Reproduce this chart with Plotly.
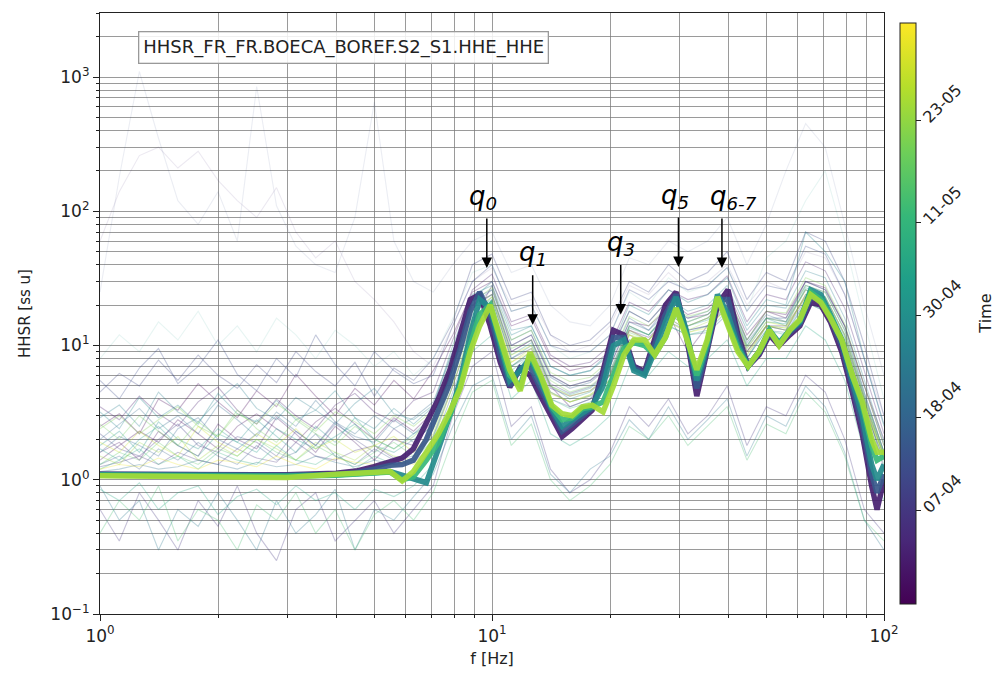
import numpy as np
import pandas as pd
import plotly.graph_objects as go
from plotly.colors import sample_colorscale

# ---------------------------------------------------------------------------
# Frequency grids [Hz]
# ---------------------------------------------------------------------------
FREQ_BG = [1.0, 1.12, 1.26, 1.41, 1.58, 1.78, 2.0, 2.24, 2.51, 2.82,
           3.16, 3.55, 3.98, 4.47, 5.01, 5.62, 6.31, 7.08, 7.94, 8.91,
           10.0, 11.2, 12.6, 14.1, 15.8, 17.8, 20.0, 22.4, 25.1, 28.2,
           31.6, 35.5, 39.8, 44.7, 50.1, 56.2, 63.1, 70.8, 79.4, 89.1, 100.0]

FREQ_CORE = [1.0, 1.5, 2.0, 3.0, 4.0, 4.5, 5.0, 5.5, 5.9, 6.3,
             6.8, 7.3, 7.8, 8.3, 8.8, 9.3, 9.9, 10.5, 11.1, 11.8,
             12.5, 13.3, 14.2, 15.1, 16.0, 17.0, 18.0, 19.2, 20.4, 21.7,
             23.0, 24.5, 26.0, 27.7, 29.5, 31.3, 33.3, 35.4, 37.6, 40.0,
             42.4, 45.0, 48.0, 51.0, 54.0, 57.5, 61.0, 65.0, 69.0, 73.0,
             78.0, 83.0, 88.0, 93.0, 96.0, 100.0]

# ---------------------------------------------------------------------------
# Individual (noisy) HHSR curves, one per acquisition window
# ---------------------------------------------------------------------------
BG_0328 = [2.5, 3.1, 2.2, 4.0, 3.3, 5.2, 3.8, 2.9, 4.6, 3.5, 6.1, 4.2, 3.0, 4.8, 3.6, 5.5, 4.0, 6.5, 12, 25,
           30, 14, 16, 8, 6.5, 7, 9, 18, 15, 22, 17, 19, 26, 12, 18, 16, 30, 26, 14, 5, 2]
BG_0329 = [1.4, 1.8, 2.3, 1.9, 2.8, 2.2, 1.7, 2.5, 3.1, 2.4, 1.9, 2.7, 3.4, 2.6, 2.0, 2.9, 2.3, 3.2,
           6, 15, 28, 10, 12, 6, 5, 5.5, 7, 15, 14, 19, 16, 17, 24, 11, 18, 17, 30, 27, 14, 5, 1.8]
BG_0331 = [1.6, 1.9, 1.4, 2.3, 1.8, 1.5, 2.6, 2.0, 1.7, 2.9, 2.2, 1.6, 2.5, 1.9, 1.4, 2.0, 1.8, 2.8, 8, 20,
           24, 9, 11, 5, 3.5, 4, 6, 13, 11, 17, 9, 14, 22, 9, 14, 13, 24, 20, 11, 4, 1.2]
BG_0401 = [3.5, 2.8, 4.2, 3.1, 2.5, 3.8, 4.9, 3.3, 2.6, 4.0, 3.0, 2.4, 3.6, 4.4, 3.2, 2.7, 3.9, 4.5,
           11, 26, 34, 15, 17, 8.5, 7, 7.5, 10, 21, 18, 26, 22, 24, 33, 15, 24, 22, 42, 36, 19, 6.5, 2.2]
BG_0404 = [60, 140, 260, 300, 210, 280, 170, 120, 90, 150, 70, 45, 60, 30, 22, 15, 9, 7, 14, 30,
           38, 20, 22, 12, 9, 10, 14, 28, 24, 35, 26, 30, 40, 20, 30, 26, 50, 45, 24, 8, 3]
BG_0406 = [1.25, 1.35, 1.5, 1.3, 1.6, 1.4, 1.3, 1.7, 1.45, 1.35, 1.9, 1.5, 1.4, 1.65, 1.8, 1.45, 1.6, 2.1,
           5, 13, 22, 8, 9.5, 4.8, 4.2, 4.6, 6, 13, 11.5, 16, 13, 14, 20, 9, 14, 14, 23, 20, 10.5, 3.8, 1.5]
BG_0407 = [0.6, 0.35, 0.8, 0.5, 0.3, 0.7, 0.45, 0.9, 0.4, 0.25, 0.6, 0.8, 0.35, 0.5, 0.7, 0.4, 0.6, 0.9, 3, 7,
           9, 2.5, 3.5, 1.2, 0.8, 1.0, 1.6, 3.5, 2.5, 4, 2.2, 3, 5, 1.8, 3.5, 3, 6, 4.5, 2, 0.6, 0.4]
BG_0409 = [2.2, 1.7, 1.5, 2.0, 2.6, 1.8, 1.6, 2.1, 1.9, 1.5, 2.3, 1.8, 2.7, 2.0, 1.6, 2.4, 1.9, 2.6,
           7.5, 19, 24, 9, 11, 5.2, 4.4, 4.9, 6.4, 14, 12, 17, 14, 16, 22, 9.8, 16, 15, 26, 23, 12, 4.2, 1.6]
BG_0410 = [4.5, 6.2, 5.0, 7.8, 5.5, 8.5, 6.0, 4.8, 7.2, 5.3, 9.0, 6.4, 5.0, 7.5, 4.2, 6.8, 5.5, 8, 15, 40,
           48, 22, 25, 12, 10, 11, 15, 30, 25, 40, 30, 35, 50, 22, 35, 30, 70, 60, 30, 10, 3]
BG_0412 = [5.5, 4.0, 6.8, 9.5, 5.2, 7.0, 11, 6.1, 4.6, 8.0, 5.8, 12, 7.2, 5.0, 9.0, 6.5, 5.2, 6.0,
           14, 30, 40, 18, 20, 10, 9, 9, 12, 26, 22, 30, 26, 28, 38, 18, 28, 26, 55, 48, 24, 8, 2.6]
BG_0413 = [25, 180, 1100, 350, 120, 80, 140, 60, 850, 110, 55, 40, 35, 90, 650, 60, 30, 25, 40, 60,
           70, 35, 40, 20, 15, 14, 20, 45, 40, 60, 50, 60, 90, 40, 80, 200, 450, 300, 80, 20, 6]
BG_0416 = [1.3, 1.5, 1.2, 1.7, 1.4, 1.9, 1.5, 1.3, 1.8, 1.4, 1.6, 2.2, 1.5, 1.3, 1.7, 1.4, 1.5, 2.4, 6, 16,
           20, 7, 9, 4.5, 3.8, 4.2, 5.5, 12, 10, 15, 13, 14, 19, 8, 14, 13, 22, 19, 10, 3.5, 1.4]
BG_0418 = [1.6, 2.1, 1.8, 1.5, 2.4, 2.9, 2.0, 1.7, 2.2, 3.0, 2.3, 1.8, 2.6, 2.1, 1.9, 2.8, 2.2, 2.7,
           8, 20, 26, 10, 12, 5.8, 4.8, 5.3, 7, 15, 13, 18, 15, 17, 23, 10.5, 16, 16, 28, 25, 13, 4.4, 1.6]
BG_0419 = [2.0, 2.6, 3.4, 2.4, 3.0, 2.2, 3.6, 2.8, 2.1, 3.2, 2.5, 3.9, 2.7, 2.2, 3.0, 2.4, 2.9, 3.8, 9, 22,
           26, 11, 13, 6, 5, 5.5, 7.5, 16, 13, 20, 16, 18, 24, 11, 17, 15, 30, 26, 14, 4.5, 1.6]
BG_0421 = [1.15, 1.2, 1.3, 1.2, 1.25, 1.4, 1.3, 1.2, 1.35, 1.25, 1.3, 1.5, 1.35, 1.25, 1.4, 1.3, 1.35, 1.8,
           4.5, 12, 19, 7, 8.5, 4, 3.5, 4, 5, 11, 10, 14, 12, 12.5, 17, 8, 13, 12.5, 21, 18, 9.5, 3.4, 1.4]
BG_0423 = [0.9, 0.5, 0.7, 0.3, 0.6, 0.45, 0.8, 0.5, 0.3, 0.7, 0.4, 0.55, 0.85, 0.3, 0.6, 0.5, 0.75, 1.1, 2.5, 5,
           6, 2, 3, 1.1, 0.8, 1.2, 1.5, 2.8, 2, 3.5, 2, 2.8, 4, 1.5, 3, 2.5, 5, 3.5, 1.6, 0.5, 0.3]
BG_0425 = [2.9, 3.6, 2.5, 4.5, 3.2, 2.7, 3.9, 5.2, 3.4, 2.8, 4.1, 3.3, 2.6, 3.7, 4.8, 3.1, 2.8, 3.6,
           9, 22, 30, 13, 14, 7, 6, 6.5, 8.5, 18, 15, 22, 18, 20, 28, 13, 20, 19, 36, 32, 16, 5.5, 1.9]
BG_0427 = [3.2, 2.4, 4.1, 2.9, 3.6, 2.6, 4.4, 3.1, 2.7, 3.9, 2.8, 3.3, 4.6, 2.9, 2.4, 3.4, 2.6, 3.5, 10, 24,
           28, 12, 14, 7, 6, 6.5, 9, 20, 17, 26, 21, 24, 32, 14, 22, 20, 70, 50, 30, 8, 2.5]
BG_0501 = [1.8, 2.3, 1.6, 2.7, 2.0, 1.7, 2.4, 1.9, 2.8, 2.1, 1.6, 2.5, 1.9, 2.9, 2.0, 1.7, 2.2, 3.0, 7, 18,
           22, 8, 10, 5, 4, 4.5, 6, 14, 12, 18, 14, 16, 22, 10, 16, 14, 27, 23, 12, 4, 1.5]
BG_0503 = [1.7, 1.4, 2.0, 2.5, 1.8, 1.5, 2.2, 1.9, 1.6, 2.4, 2.0, 1.7, 2.1, 2.6, 1.8, 1.6, 2.0, 2.5,
           7, 17, 23, 8.5, 10.5, 5, 4.3, 4.8, 6.2, 13.5, 12, 17, 14, 15.5, 21, 9.5, 15, 14.5, 26, 22, 11.5, 4, 1.5]
BG_0505 = [8, 12, 9, 15, 11, 18, 10, 14, 9, 16, 12, 8, 13, 10, 7, 9, 6, 8, 16, 35,
           40, 18, 20, 10, 8, 9, 12, 25, 20, 32, 25, 28, 38, 18, 45, 60, 120, 200, 60, 15, 4]
BG_0507 = [0.85, 0.7, 0.95, 0.6, 0.8, 0.9, 0.55, 0.75, 0.85, 0.65, 0.9, 0.7, 0.8, 0.6, 0.85, 0.75, 0.9, 1.3,
           3.5, 9, 12, 4, 5.5, 2.2, 1.8, 2.2, 3, 7, 6, 9, 7, 8, 11, 5, 8, 8, 14, 11, 5.5, 1.6, 0.7]
BG_0509 = [1.2, 1.4, 1.7, 1.3, 1.5, 1.2, 1.6, 1.4, 1.3, 1.8, 1.4, 1.3, 1.6, 1.2, 1.5, 1.3, 1.4, 2.0, 5, 14,
           18, 6.5, 8.5, 4, 3.4, 3.8, 5, 11, 10, 14, 12, 13, 18, 8, 13, 12, 21, 18, 9.5, 3.2, 1.3]
BG_0514 = [0.4, 0.7, 0.5, 0.9, 0.35, 0.6, 0.5, 0.3, 0.65, 0.5, 0.8, 0.4, 0.6, 0.3, 0.55, 0.7, 0.5, 0.8, 2, 4.5,
           5.5, 1.8, 2.6, 1.0, 0.7, 0.9, 1.3, 2.5, 2, 3, 1.8, 2.5, 3.5, 1.4, 2.6, 2.2, 4.5, 3.2, 1.5, 0.5, 0.35]
BG_0516 = [1.3, 1.6, 1.4, 1.9, 1.5, 1.3, 1.7, 1.5, 2.0, 1.6, 1.4, 1.8, 1.5, 1.3, 1.6, 1.9, 1.5, 2.1,
           5.5, 15, 20, 7, 9, 4.4, 3.8, 4.3, 5.6, 12.5, 11, 15, 12.5, 14, 19, 8.5, 14, 13.5, 23, 20, 10, 3.6, 1.5]
BG_0519 = [2.6, 2.0, 3.0, 2.3, 1.8, 2.7, 2.1, 3.3, 2.4, 1.9, 2.8, 2.2, 1.8, 2.5, 2.0, 1.7, 2.1, 2.9, 8, 20,
           24, 9.5, 11, 5.5, 4.5, 5, 6.5, 14, 12, 18, 15, 17, 23, 10, 16, 15, 28, 25, 13, 4.2, 1.6]
BG_0521 = [2.4, 3.0, 2.2, 2.8, 3.5, 2.5, 2.1, 3.1, 2.6, 3.7, 2.9, 2.3, 3.2, 2.7, 2.2, 3.0, 2.5, 3.3,
           8.5, 21, 27, 11, 13, 6.3, 5.4, 5.8, 7.8, 16.5, 14, 20, 16.5, 18, 25, 11, 18, 17.5, 32, 28, 14.5, 5, 1.8]
BG_0524 = [1.5, 1.3, 1.9, 1.6, 2.1, 1.4, 1.8, 1.5, 2.0, 1.7, 1.4, 1.9, 1.6, 1.4, 1.8, 1.5, 1.4, 2.2, 6, 16,
           21, 7.5, 9.5, 4.5, 3.8, 4.2, 5.5, 12, 11, 16, 13, 15, 20, 9, 14, 13, 24, 21, 11, 3.6, 1.4]
BG_0529 = [1.9, 1.6, 2.3, 1.8, 1.5, 2.5, 1.9, 1.6, 2.2, 1.8, 2.4, 1.7, 2.0, 1.6, 1.8, 2.1, 1.6, 2.4, 7, 18,
           23, 8.5, 10, 5, 4.2, 4.6, 6, 13, 11, 17, 14, 16, 22, 9.5, 15, 14, 26, 23, 12, 4, 1.5]
BG_0602 = [1.2, 1.3, 1.25, 1.45, 1.3, 1.2, 1.4, 1.35, 1.25, 1.5, 1.3, 1.2, 1.45, 1.35, 1.3, 1.4, 1.3, 1.9,
           5, 14, 20, 7.5, 9, 4.4, 3.8, 4.3, 5.5, 12, 10.5, 15, 12.5, 13.5, 19, 8.5, 14, 13.5, 23, 20, 10, 3.6, 1.5]

BG_SERIES = [
    ("2021-03-28", BG_0328), ("2021-03-29", BG_0329), ("2021-03-31", BG_0331),
    ("2021-04-01", BG_0401), ("2021-04-04", BG_0404), ("2021-04-06", BG_0406),
    ("2021-04-07", BG_0407), ("2021-04-09", BG_0409), ("2021-04-10", BG_0410),
    ("2021-04-12", BG_0412), ("2021-04-13", BG_0413), ("2021-04-16", BG_0416),
    ("2021-04-18", BG_0418), ("2021-04-19", BG_0419), ("2021-04-21", BG_0421),
    ("2021-04-23", BG_0423), ("2021-04-25", BG_0425), ("2021-04-27", BG_0427),
    ("2021-05-01", BG_0501), ("2021-05-03", BG_0503), ("2021-05-05", BG_0505),
    ("2021-05-07", BG_0507), ("2021-05-09", BG_0509), ("2021-05-14", BG_0514),
    ("2021-05-16", BG_0516), ("2021-05-19", BG_0519), ("2021-05-21", BG_0521),
    ("2021-05-24", BG_0524), ("2021-05-29", BG_0529), ("2021-06-02", BG_0602),
]

# ---------------------------------------------------------------------------
# Stable (coherent) HHSR curves
# ---------------------------------------------------------------------------
CORE_0402 = [1.10, 1.10, 1.09, 1.09, 1.12, 1.16, 1.25, 1.35, 1.45, 1.7,
             2.6, 4.0, 6.5, 12, 22, 24, 14, 7.5, 4.9, 6.8,
             6.0, 4.2, 3.0, 2.1, 2.4, 2.8, 3.3, 6.5, 13, 12,
             7.0, 6.4, 11, 20, 25, 12, 4.2, 9.0, 20, 26,
             12, 7.0, 8.5, 12, 10, 12, 14, 21, 20, 15,
             9.0, 4.5, 2.2, 0.9, 0.6, 1.0]
CORE_0415 = [1.10, 1.09, 1.08, 1.08, 1.10, 1.13, 1.2, 1.28, 1.3, 1.4,
             2.0, 3.2, 5.2, 9.5, 18, 25, 17, 8.5, 5.0, 6.8,
             7.0, 4.8, 3.2, 2.3, 2.6, 3.0, 3.4, 5.8, 11.5, 11.5,
             6.8, 6.2, 10, 17, 24, 12.5, 4.8, 9.5, 22, 22,
             11, 7.0, 8.8, 12.5, 10.2, 12.5, 14.5, 23, 22, 16,
             10, 5.0, 2.6, 1.1, 0.8, 1.1]
CORE_0429 = [1.09, 1.08, 1.07, 1.07, 1.09, 1.1, 1.13, 1.15, 1.08, 1.0,
             0.95, 1.7, 3.0, 5.5, 12, 22, 19, 10, 5.5, 6.5,
             8.0, 5.5, 3.4, 2.5, 2.8, 3.2, 3.5, 5.0, 10, 11,
             6.5, 6.0, 9.0, 15, 23, 13, 5.5, 10, 24, 17,
             10, 7.0, 9.0, 13, 10.5, 13, 15, 26, 24, 17,
             11, 5.5, 3.0, 1.3, 1.0, 1.3]
CORE_0512 = [1.08, 1.07, 1.06, 1.06, 1.08, 1.1, 1.13, 1.14, 1.0, 1.05,
             1.4, 1.9, 3.0, 5.0, 10, 17, 20, 11, 6.0, 5.0,
             8.5, 5.8, 3.5, 2.8, 2.9, 3.4, 3.5, 3.8, 6, 9.5,
             10.5, 10, 8.5, 11.5, 19, 12, 6.0, 10.5, 23, 15,
             9.5, 7.0, 9.0, 13, 10.2, 13, 15.3, 25, 22, 16.5,
             11, 6.0, 3.6, 1.8, 1.4, 1.5]
CORE_0525 = [1.07, 1.06, 1.05, 1.04, 1.10, 1.12, 1.15, 1.15, 0.98, 1.15,
             1.6, 2.2, 3.2, 4.8, 9.0, 14, 20, 11.5, 6.6, 4.6,
             8.9, 6.0, 3.6, 3.1, 3.0, 3.5, 3.6, 3.2, 5.0, 8.5,
             11, 11, 8.5, 11.5, 19, 11.5, 6.6, 11, 23, 14,
             9.0, 7.0, 9.0, 13, 10, 13, 15.6, 24, 21, 16,
             11, 6.0, 3.8, 2.0, 1.6, 1.6]

CORE_SERIES = [
    ("2021-04-02", CORE_0402), ("2021-04-15", CORE_0415), ("2021-04-29", CORE_0429),
    ("2021-05-12", CORE_0512), ("2021-05-25", CORE_0525),
]

# ---------------------------------------------------------------------------
# Time axis of the colour scale
# ---------------------------------------------------------------------------
TIME_START = "2021-03-27"
TIME_END = "2021-06-03 12:00"
TIME_TICKS = ["2021-04-07", "2021-04-18", "2021-04-30", "2021-05-11", "2021-05-23"]
TIME_TICK_TEXT = ["07-04", "18-04", "30-04", "11-05", "23-05"]

# Peak labels: (text, frequency [Hz], arrow tip level, text x shift [px])
PEAK_LABELS = [
    ("q<sub>0</sub>", 9.7, 37.8, -4),
    ("q<sub>1</sub>", 12.7, 14.3, 0),
    ("q<sub>3</sub>", 21.3, 17.0, 0),
    ("q<sub>5</sub>", 29.9, 38.4, -3),
    ("q<sub>6-7</sub>", 38.6, 37.8, 12),
]

STATION_LABEL = "HHSR_FR_FR.BOECA_BOREF.S2_S1.HHE_HHE"

t0 = pd.Timestamp(TIME_START)


def day_of(d):
    return (pd.Timestamp(d) - t0) / pd.Timedelta(days=1)


cmin, cmax = 0.0, day_of(TIME_END)


def viridis_at(d, alpha=1.0):
    frac = min(max((day_of(d) - cmin) / (cmax - cmin), 0.0), 1.0)
    rgb = sample_colorscale("Viridis", [frac], colortype="tuple")[0]
    r, g, b = [int(round(255 * c)) for c in rgb]
    return f"rgba({r},{g},{b},{alpha})"


fig = go.Figure()

for d, vals in BG_SERIES:
    assert len(vals) == len(FREQ_BG), d
    # very energetic windows are drawn fainter
    alpha = 0.1 if max(vals) > 150 else 0.3
    fig.add_trace(go.Scatter(
        x=FREQ_BG, y=vals, mode="lines",
        line=dict(color=viridis_at(d, alpha), width=1.1),
        hoverinfo="skip", showlegend=False))

for d, vals in CORE_SERIES:
    assert len(vals) == len(FREQ_CORE), d
    fig.add_trace(go.Scatter(
        x=FREQ_CORE, y=vals, mode="lines",
        line=dict(color=viridis_at(d, 0.92), width=5.5),
        hoverinfo="skip", showlegend=False))

# colour bar for the acquisition time
fig.add_trace(go.Scatter(
    x=[None], y=[None], mode="markers", showlegend=False, hoverinfo="skip",
    marker=dict(
        color=[cmin], colorscale="Viridis", cmin=cmin, cmax=cmax, showscale=True,
        colorbar=dict(
            x=1.0077, xanchor="left", y=0.5, yanchor="middle",
            len=1.0, lenmode="fraction", thickness=16,
            outlinewidth=1, outlinecolor="#222",
            tickmode="array", tickvals=[day_of(t) for t in TIME_TICKS], ticktext=TIME_TICK_TEXT,
            tickangle=-45, ticks="outside", ticklen=5, tickcolor="#222",
            tickfont=dict(size=16, color="#222"),
        ))))

grid_col = "rgba(120,120,120,0.75)"
x_minor = [m * 10 ** e for e in range(0, 2) for m in range(2, 10)]
y_minor = [m * 10 ** e for e in range(-1, 4) for m in range(2, 10)]

fig.update_xaxes(
    type="log", range=[0, 2],
    tickmode="array", tickvals=[1, 10, 100],
    ticktext=["10<sup>0</sup>", "10<sup>1</sup>", "10<sup>2</sup>"],
    ticks="outside", ticklen=6, tickcolor="#222",
    showgrid=True, gridcolor=grid_col, gridwidth=1,
    minor=dict(tickmode="array", tickvals=x_minor, ticks="outside", ticklen=3,
               tickcolor="#222", showgrid=True, gridcolor=grid_col, gridwidth=1),
    showline=True, mirror=True, linecolor="#222", linewidth=1.2,
    tickfont=dict(size=17, color="#222"),
    title=dict(text="f [Hz]", font=dict(size=16, color="#222"), standoff=8),
    zeroline=False,
)
fig.update_yaxes(
    type="log", range=[-1, np.log10(3000)],
    tickmode="array", tickvals=[0.1, 1, 10, 100, 1000],
    ticktext=["10<sup>\u22121</sup>", "10<sup>0</sup>", "10<sup>1</sup>",
              "10<sup>2</sup>", "10<sup>3</sup>"],
    ticks="outside", ticklen=6, tickcolor="#222",
    showgrid=True, gridcolor=grid_col, gridwidth=1,
    minor=dict(tickmode="array", tickvals=y_minor, ticks="outside", ticklen=3,
               tickcolor="#222", showgrid=True, gridcolor=grid_col, gridwidth=1),
    showline=True, mirror=True, linecolor="#222", linewidth=1.2,
    tickfont=dict(size=17, color="#222"),
    title=dict(text="HHSR [ss u]", font=dict(size=15, color="#222"), standoff=16),
    zeroline=False,
)

for text, f, tip, dx in PEAK_LABELS:
    fig.add_annotation(
        x=np.log10(f), y=np.log10(tip), xref="x", yref="y",
        text="", showarrow=True, ax=0, ay=-51, axref="pixel", ayref="pixel",
        arrowhead=2, arrowsize=1.4, arrowwidth=1.5, arrowcolor="black")
    fig.add_annotation(
        x=np.log10(f), y=np.log10(tip), xref="x", yref="y",
        text=f"<i>{text}</i>", showarrow=False, xshift=dx, yshift=71,
        xanchor="center", yanchor="middle",
        font=dict(size=26, color="black", family="DejaVu Sans"))

fig.add_annotation(
    x=0.31, y=0.942, xref="paper", yref="paper", showarrow=False,
    xanchor="center", yanchor="middle",
    text=STATION_LABEL, font=dict(size=18, color="#222"),
    bgcolor="rgba(255,255,255,0.85)", bordercolor="#999", borderwidth=1.3, borderpad=4)

# colour bar title
fig.add_annotation(
    x=1.129, y=0.5, xref="paper", yref="paper", showarrow=False,
    xanchor="center", yanchor="middle", textangle=-90,
    text="Time", font=dict(size=16, color="#222"))

fig.update_layout(
    width=1003, height=677,
    margin=dict(l=100, r=119, t=12, b=61),
    paper_bgcolor="white", plot_bgcolor="white",
    font=dict(family="DejaVu Sans", color="#222"),
)

fig.write_html("out.html")
